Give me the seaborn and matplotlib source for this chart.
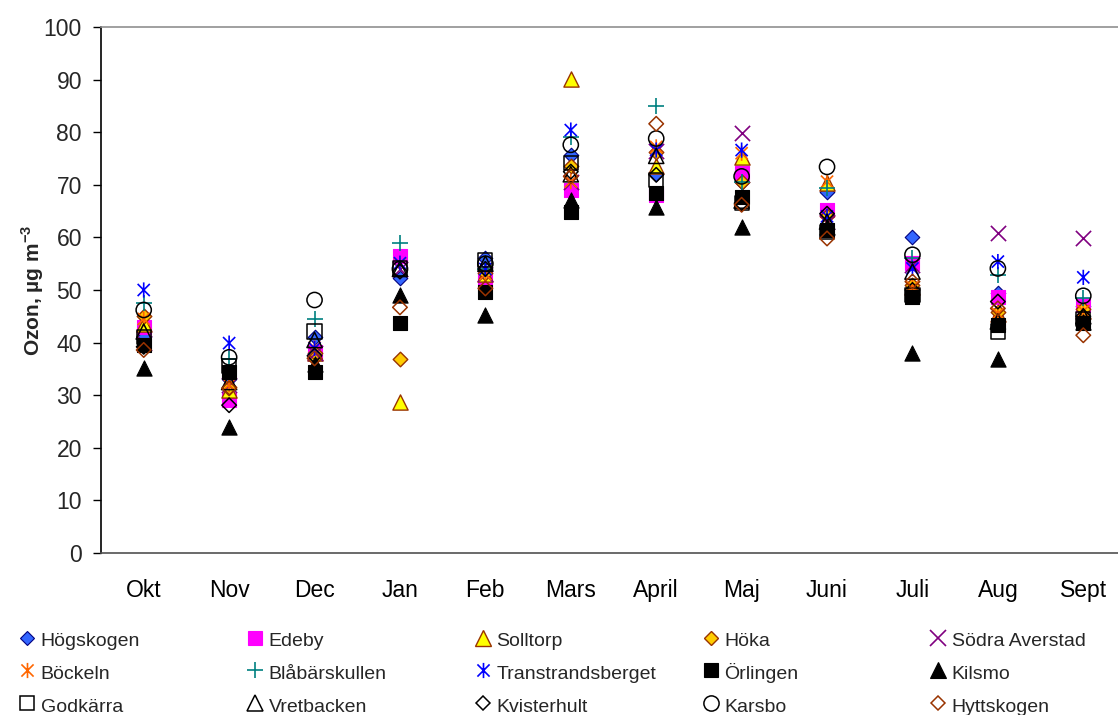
import numpy as np
import pandas as pd
import matplotlib
matplotlib.use("Agg")
import matplotlib.pyplot as plt
from matplotlib.path import Path
from matplotlib.lines import Line2D
import seaborn as sns

# Monthly mean ozone concentrations (µg m-3) per station
months = ["Okt", "Nov", "Dec", "Jan", "Feb", "Mars", "April", "Maj", "Juni", "Juli", "Aug", "Sept"]

hogskogen = [41.0, 33.0, 41.0, 52.2, 56.0, 75.7, 72.0, 70.5, 68.7, 60.1, 49.5, 47.0]
edeby = [43.0, 29.1, 38.3, 56.5, 52.2, 69.0, 68.1, 72.2, 65.2, 55.1, 48.7, 47.1]
solltorp = [43.5, 31.0, 38.0, 28.8, 53.0, 90.2, 73.6, 75.3, 70.3, 50.6, 45.5, 46.0]
hoka = [45.0, 31.6, 38.0, 36.8, 53.2, 73.6, 76.3, 70.6, 64.0, 51.0, 45.9, 46.3]
sodra_averstad = [40.0, 32.0, 38.0, 54.0, 53.0, 70.5, 76.5, 79.8, 63.0, 54.8, 60.9, 59.9]
bockeln = [44.5, 32.0, 39.0, 55.0, 53.0, 70.6, 77.2, 76.0, 70.6, 50.5, 45.5, 46.0]
blabarskullen = [47.5, 36.9, 44.4, 59.0, 54.0, 79.0, 85.0, 70.6, 69.3, 56.0, 52.8, 48.5]
transtrandsberget = [50.0, 39.9, 38.9, 55.1, 54.0, 80.4, 76.6, 76.6, 64.0, 54.1, 55.4, 52.4]
orlingen = [39.5, 34.5, 34.5, 43.7, 49.7, 64.9, 68.4, 67.7, 61.4, 48.7, 43.3, 43.7]
kilsmo = [35.1, 24.0, 36.0, 49.0, 45.2, 67.1, 65.8, 62.0, 62.0, 38.0, 36.8, 44.0]
godkarra = [41.1, 35.5, 42.1, 54.1, 55.7, 74.1, 70.9, 66.5, 61.0, 49.0, 42.1, 44.5]
vretbacken = [42.1, 32.5, 40.5, 54.0, 55.0, 72.0, 75.5, 67.0, 63.0, 53.5, 44.0, 45.0]
kvisterhult = [39.2, 28.1, 37.5, 53.5, 54.0, 72.5, 71.9, 66.5, 64.5, 50.0, 47.8, 45.0]
karsbo = [46.2, 37.2, 48.1, 54.0, 55.0, 77.6, 78.8, 71.6, 73.4, 56.7, 54.1, 48.9]
hyttskogen = [38.6, 31.3, 37.0, 46.7, 50.3, 71.6, 81.6, 66.2, 59.8, 51.6, 46.5, 41.4]

stations = ["Högskogen", "Edeby", "Solltorp", "Höka", "Södra Averstad",
            "Böckeln", "Blåbärskullen", "Transtrandsberget", "Örlingen", "Kilsmo",
            "Godkärra", "Vretbacken", "Kvisterhult", "Karsbo", "Hyttskogen"]
values = [hogskogen, edeby, solltorp, hoka, sodra_averstad,
          bockeln, blabarskullen, transtrandsberget, orlingen, kilsmo,
          godkarra, vretbacken, kvisterhult, karsbo, hyttskogen]

# Star marker: an X with a vertical bar through it
star = Path([(-1, -1), (1, 1), (-1, 1), (1, -1), (0, -1.25), (0, 1.25)],
            [Path.MOVETO, Path.LINETO, Path.MOVETO, Path.LINETO, Path.MOVETO, Path.LINETO])

BROWN = "#993300"
# marker, face colour, edge colour, scatter size, edge width
styles = {
    "Högskogen": ("D", "#3366FF", "#000080", 55, 0.8),
    "Edeby": ("s", "#FF00FF", "#FF00FF", 105, 0.8),
    "Solltorp": ("^", "#FFFF00", BROWN, 120, 1.0),
    "Höka": ("D", "#FFCC00", BROWN, 55, 1.0),
    "Södra Averstad": ("x", "#800080", "#800080", 120, 1.2),
    "Böckeln": (star, "none", "#FF6600", 120, 1.2),
    "Blåbärskullen": ("+", "#008080", "#008080", 140, 1.2),
    "Transtrandsberget": (star, "none", "#0000FF", 120, 1.2),
    "Örlingen": ("s", "#000000", "#000000", 105, 0.8),
    "Kilsmo": ("^", "#000000", "#000000", 120, 0.8),
    "Godkärra": ("s", "none", "#000000", 105, 1.1),
    "Vretbacken": ("^", "none", "#000000", 120, 1.1),
    "Kvisterhult": ("D", "none", "#000000", 55, 1.1),
    "Karsbo": ("o", "none", "#000000", 120, 1.1),
    "Hyttskogen": ("D", "none", BROWN, 55, 1.1),
}

sns.set_theme(style="white")
plt.rcParams["font.family"] = ["Liberation Sans", "DejaVu Sans"]
plt.rcParams["mathtext.fontset"] = "custom"
plt.rcParams["mathtext.rm"] = "Liberation Sans"
plt.rcParams["mathtext.bf"] = "Liberation Sans:bold"

W, H = 1118, 715
fig = plt.figure(figsize=(W / 100, H / 100), dpi=100)
ax = fig.add_axes([101 / W, 1 - 553 / H, (1126 - 101) / W, (553 - 27) / H])

df = pd.DataFrame({"month": months})
for name, vals in zip(stations, values):
    m, fc, ec, s, lw = styles[name]
    df[name] = vals
    if m in ("x", "+"):
        sns.scatterplot(data=df, x="month", y=name, marker=m, color=fc, s=s,
                        linewidth=lw, ax=ax, zorder=3, legend=False)
    else:
        sns.scatterplot(data=df, x="month", y=name, marker=m, facecolor=fc,
                        edgecolor=ec, s=s, linewidth=lw, ax=ax, zorder=3, legend=False)

ax.set_xlim(-0.5, len(months) - 0.5)
ax.set_ylim(0, 100)
ax.set_yticks(np.arange(0, 101, 10))
ax.set_xticks(np.arange(len(months)))
ax.set_xticklabels(months)
ax.set_xticks(np.arange(len(months) + 1) - 0.5, minor=True)
ax.tick_params(axis="x", which="major", length=0, pad=19, labelsize=16.5, colors="black")
ax.tick_params(axis="x", which="minor", length=6, width=1, color="#404040", direction="out")
ax.tick_params(axis="y", length=6, width=1, color="black", direction="out", pad=7.7,
               labelsize=16.5, left=True)
ax.grid(False)

ax.set_xlabel("")
ax.set_ylabel(r"Ozon, µg m$^{\mathbf{-3}}$", fontsize=15, fontweight="bold", labelpad=-2)

for side in ("left", "bottom", "top", "right"):
    ax.spines[side].set_linewidth(1.2)
ax.spines["left"].set_color("black")
ax.spines["bottom"].set_color("#505050")
ax.spines["top"].set_color("#909090")
ax.spines["right"].set_visible(False)

# Legend: five columns of three entries, filled row by row
col_x = [27, 255, 483, 711, 938]
for c in range(5):
    handles = []
    labels = []
    for r in range(3):
        name = stations[r * 5 + c]
        m, fc, ec, s, lw = styles[name]
        ms = np.sqrt(s)
        if m in ("x", "+"):
            h = Line2D([], [], ls="none", marker=m, markersize=ms, color=fc, markeredgewidth=lw)
        else:
            h = Line2D([], [], ls="none", marker=m, markersize=ms, markerfacecolor=fc,
                       markeredgecolor=ec, markeredgewidth=lw)
        handles.append(h)
        labels.append(name)
    fs = 14
    hl = 1.0
    fig.legend(handles, labels, loc="upper left",
               bbox_to_anchor=((col_x[c] - fs * 1.389 * hl / 2) / W, 1 - 629 / H),
               frameon=False, fontsize=fs, handlelength=hl, handleheight=1.3,
               handletextpad=0.2, borderpad=0, borderaxespad=0, labelspacing=0.6)

fig.savefig("out.png", dpi=100)
